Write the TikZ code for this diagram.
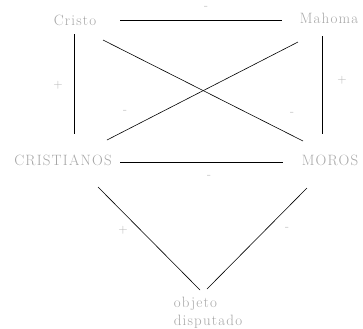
\documentclass[tikz,border=0pt]{standalone}
\usepackage{fontspec}
\usepackage{tikz}
\newfontfamily\spacedfont{lmroman17-regular.otf}[LetterSpace=8]

\begin{document}
\begin{tikzpicture}[x=1bp, y=-1bp,
  actor/.style={text=black!35, font=\spacedfont\fontsize{15}{18}\selectfont, inner sep=0pt},
  sign/.style={text=black!30, font=\spacedfont\fontsize{13}{15}\selectfont, inner sep=0pt},
  link/.style={black, line width=0.6pt}]
  \useasboundingbox (0,0) rectangle (363,329);

  % Actors
  \node[actor] (cristo) at (75,20) {Cristo};
  \node[actor] (mahoma) at (329,18) {Mahoma};
  \node[actor] (cristianos) at (63,160) {CRISTIANOS};
  \node[actor] (moros) at (330,160) {MOROS};
  \node[actor, align=left] (objeto) at (208,313) {objeto\\disputado};

  % Relations
  \draw[link] ([shift={(45,0)}]cristo.center) -- ([shift={(-47,2)}]mahoma.center);
  \draw[link] ([shift={(-1,14)}]cristo.center) -- ([shift={(11,-26)}]cristianos.center);
  \draw[link] ([shift={(-7,18)}]mahoma.center) -- ([shift={(-8,-26)}]moros.center);
  \draw[link] ([shift={(28,20)}]cristo.center) -- ([shift={(-27,-19)}]moros.center);
  \draw[link] ([shift={(-31,24)}]mahoma.center) -- ([shift={(44,-20)}]cristianos.center);
  \draw[link] ([shift={(57,2)}]cristianos.center) -- ([shift={(-47,2)}]moros.center);
  \draw[link] ([shift={(35,27)}]cristianos.center) -- ([shift={(-8,-23)}]objeto.center);
  \draw[link] ([shift={(-23,28)}]moros.center) -- ([shift={(-1,-24)}]objeto.center);

  % Signs
  \node[sign] (s1) at (206,8) {-};
  \node[sign] (s2) at (58,85) {+};
  \node[sign] (s3) at (342,80) {+};
  \node[sign] (s4) at (125,112) {-};
  \node[sign] (s5) at (292,114) {-};
  \node[sign] (s6) at (209,177) {-};
  \node[sign] (s7) at (123,230) {+};
  \node[sign] (s8) at (287,229) {-};
\end{tikzpicture}
\end{document}
